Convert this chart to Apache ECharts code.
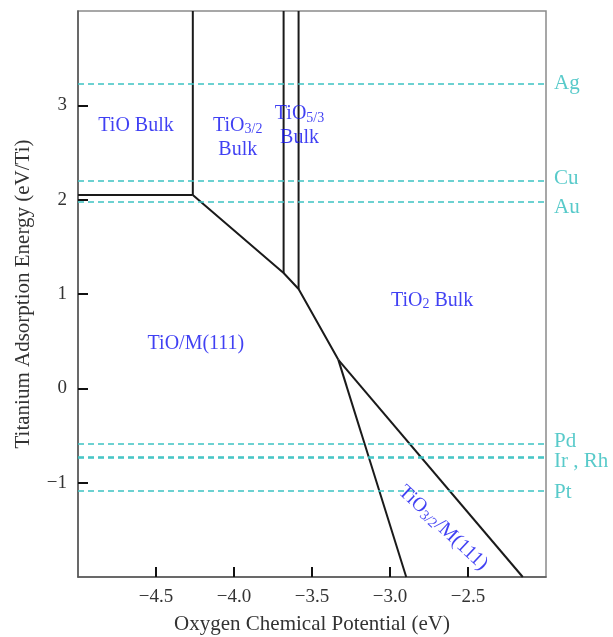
<!DOCTYPE html>
<html>
<head>
<meta charset="utf-8">
<script src="https://cdn.jsdelivr.net/npm/echarts@6/dist/echarts.min.js"></script>
<style>
  html, body { margin: 0; padding: 0; background: #fff; }
  #main { width: 613px; height: 637px; }
</style>
</head>
<body>
<div id="main"></div>
<script>
// phase boundaries (oxygen chemical potential, Ti adsorption energy)
var tioBulkEdge   = [[-5.0, 2.05], [-4.264, 2.05]];
var tioSplit      = [[-4.264, 2.05], [-4.264, 4.0]];
var tiomUpper     = [[-4.264, 2.05], [-3.682, 1.222], [-3.586, 1.053], [-3.331, 0.302]];
var ti32Split     = [[-3.682, 1.222], [-3.682, 4.0]];
var ti53Split     = [[-3.586, 1.053], [-3.586, 4.0]];
var ti32mLeft     = [[-3.331, 0.302], [-2.896, -2.0]];
var ti32mRight    = [[-3.331, 0.302], [-2.149, -2.0]];
var boundaries = [tioBulkEdge, tioSplit, tiomUpper, ti32Split, ti53Split, ti32mLeft, ti32mRight];

// metal reference levels (dashed)
var metals      = ['Ag', 'Cu', 'Au', 'Pd', 'Ir', 'Rh', 'Pt'];
var metalLabels = ['Ag', 'Cu', 'Au', 'Pd', '', 'Ir , Rh', 'Pt'];
var metalEnergy = [3.233, 2.196, 1.984, -0.587, -0.725, -0.74, -1.095];
// vertical nudge (px) of each metal label so neighbours don't collide
var metalLabelShift = [0, -3, 6, -2, 0, 3, 1];

// region labels
var regionText = [
  '{m|TiO Bulk}',
  '{m|TiO}{s|3/2}\n{m|Bulk}',
  '{m|TiO}{s|5/3}\n{m|Bulk}',
  '{m|TiO}{s|2}{m| Bulk}',
  '{m|TiO/M(111)}',
  '{m|TiO}{s|3/2}{m|/M(111)}'
];
var regionX   = [-4.628, -3.976, -3.58, -2.73, -4.244, -2.66];
var regionY   = [2.78, 2.66, 2.78, 0.93, 0.47, -1.48];
var regionRot = [0, 0, 0, 0, 0, -43];

var xTickLabels = [-4.5, -4.0, -3.5, -3.0, -2.5];
var yTickLabels = [-1, 0, 1, 2, 3];

var X_MIN = -5, X_MAX = -2;
var FONT = "'Liberation Serif', 'Times New Roman', serif";
var BLUE = '#1010f0';
var CYAN = '#3cc2c2';

function minus(s) { return s.replace('-', '\u2212'); }

var myChart = echarts.init(document.getElementById('main'));

var series = [];
for (var i = 0; i < boundaries.length; i++) {
  series.push({
    type: 'line',
    data: boundaries[i],
    showSymbol: false,
    silent: true,
    lineStyle: { color: '#1a1a1a', width: 2 },
    z: 3
  });
}

// dashed metal levels
var mlData = [];
var metalTags = [];
for (var j = 0; j < metals.length; j++) {
  mlData.push({ name: metals[j], yAxis: metalEnergy[j] });
  if (metalLabels[j]) {
    metalTags.push({
      value: [X_MAX, metalEnergy[j]],
      label: { formatter: metalLabels[j], offset: [0, metalLabelShift[j]] }
    });
  }
}
series.push({
  type: 'line',
  data: [],
  markLine: {
    silent: true,
    symbol: ['none', 'none'],
    lineStyle: { color: CYAN, type: [6, 4], width: 1.6 },
    label: { show: false },
    data: mlData
  }
});
series.push({
  type: 'scatter',
  symbolSize: 0,
  silent: true,
  data: metalTags,
  label: {
    show: true,
    position: 'right',
    distance: 8,
    color: '#2ebdbd',
    fontFamily: FONT,
    fontSize: 21
  }
});

var regionData = [];
for (var k = 0; k < regionText.length; k++) {
  regionData.push({
    value: [regionX[k], regionY[k]],
    label: { formatter: regionText[k], rotate: regionRot[k] }
  });
}
series.push({
  type: 'scatter',
  symbolSize: 0,
  silent: true,
  data: regionData,
  z: 5,
  label: {
    show: true,
    position: 'inside',
    align: 'center',
    verticalAlign: 'middle',
    rich: {
      m: { fontFamily: FONT, fontSize: 20, color: BLUE, lineHeight: 24 },
      s: { fontFamily: FONT, fontSize: 14, color: BLUE, padding: [8, 0, 0, 0] }
    }
  }
});

var option = {
  backgroundColor: '#fff',
  animation: false,
  grid: {
    left: 78, right: 67, top: 11, bottom: 60,
    outerBoundsMode: 'none',
    show: true, borderColor: '#8a8a8a', borderWidth: 1.5
  },
  xAxis: {
    type: 'value',
    min: X_MIN, max: X_MAX, interval: 0.5,
    name: 'Oxygen Chemical Potential (eV)',
    nameLocation: 'middle',
    nameGap: 37,
    nameTextStyle: { fontFamily: FONT, fontSize: 21, color: '#333' },
    splitLine: { show: false },
    axisLine: { onZero: false, lineStyle: { color: '#555', width: 1.5 } },
    axisTick: { inside: true, length: 10, customValues: xTickLabels, lineStyle: { color: '#111', width: 2 } },
    axisLabel: {
      margin: 11,
      fontFamily: FONT, fontSize: 19, color: '#333',
      formatter: function (v) {
        var r = Math.round(v * 10) / 10;
        return xTickLabels.indexOf(r) >= 0 ? minus(r.toFixed(1)) : '';
      }
    }
  },
  yAxis: {
    type: 'value',
    min: -2, max: 4, interval: 1,
    name: 'Titanium Adsorption Energy (eV/Ti)',
    nameLocation: 'middle',
    nameGap: 44,
    nameTextStyle: { fontFamily: FONT, fontSize: 21, color: '#333' },
    splitLine: { show: false },
    axisLine: { onZero: false, lineStyle: { color: '#555', width: 1.5 } },
    axisTick: { inside: true, length: 10, customValues: yTickLabels, lineStyle: { color: '#111', width: 2 } },
    axisLabel: {
      margin: 11,
      fontFamily: FONT, fontSize: 19, color: '#333',
      formatter: function (v) {
        return yTickLabels.indexOf(v) >= 0 ? minus(String(v)) : '';
      }
    }
  },
  series: series
};
myChart.setOption(option);
</script>
</body>
</html>
